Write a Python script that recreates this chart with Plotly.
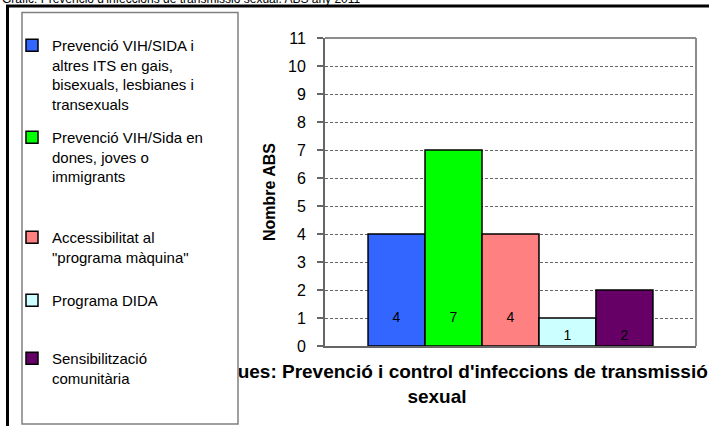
import plotly.graph_objects as go

# ---- data ----
series_names = [
    "Prevenció VIH/SIDA i<br>altres ITS en gais,<br>bisexuals, lesbianes i<br>transexuals",
    "Prevenció VIH/Sida en<br>dones, joves o<br>immigrants",
    "Accessibilitat al<br>\"programa màquina\"",
    "Programa DIDA",
    "Sensibilització<br>comunitària",
]
values = [4, 7, 4, 1, 2]
category = ["Prevenció i control d'infeccions de transmissió sexual"]
bar_colors = ["#3366FF", "#00FF00", "#FF8080", "#CCFFFF", "#660066"]
y_ticks = list(range(0, 12))

chart_title = "Gràfic: Prevenció d'infeccions de transmissió sexual. ABS any 2011"
x_title = "<b>Temàtiques: Prevenció i control d'infeccions de transmissió<br>sexual</b>"
y_title = "<b>Nombre ABS</b>"

# ---- layout helpers (pixel -> paper) ----
W, H = 709, 426
L, R, T, B = 325, 13, 38, 80
PW, PH = W - L - R, H - T - B


def px(x):
    return (x - L) / PW


def py(y):
    return (H - B - y) / PH


FONT = "Arial, 'Liberation Sans', sans-serif"

fig = go.Figure()
legend_ids = ["legend", "legend2", "legend3", "legend4", "legend5"]
for name, v, c, lid in zip(series_names, values, bar_colors, legend_ids):
    # tall bars: label lifted one line above the base; short bars: at the base
    tmpl = "%{y}<br> " if v >= 3 else "%{y}"
    fig.add_trace(go.Bar(
        x=category, y=[v], name=name,
        marker=dict(color=c, line=dict(color="black", width=1.5)),
        text=[str(v)], texttemplate=tmpl,
        textposition="inside", insidetextanchor="start",
        textangle=0, constraintext="none",
        textfont=dict(color="black", size=14, family=FONT),
        legend=lid, showlegend=True,
    ))

legend_tops = [29, 121, 221, 284, 342]
legend_layout = {}
for lid, top in zip(legend_ids, legend_tops):
    legend_layout[lid] = dict(
        x=px(12), y=py(top), xanchor="left", yanchor="top",
        bgcolor="rgba(0,0,0,0)", borderwidth=0, valign="top",
        font=dict(family=FONT, size=15, color="black"),
        visible=True,
    )

shapes = [
    # x-axis title carrier (drawn first so the legend box covers its left part)
    dict(type="rect", xref="paper", yref="paper", layer="above",
         x0=px(237), x1=px(637), y0=py(399), y1=py(365),
         line=dict(width=0), fillcolor="rgba(0,0,0,0)",
         label=dict(text=x_title, textposition="middle center",
                    font=dict(family=FONT, size=19, color="black"))),
    # legend box
    dict(type="rect", xref="paper", yref="paper", layer="above",
         x0=px(22), x1=px(238), y0=py(424), y1=py(12.5),
         line=dict(color="#808080", width=1.5), fillcolor="white"),
    # frame lines (black)
    dict(type="line", xref="paper", yref="paper", layer="above",
         x0=px(6), x1=px(712), y0=py(6), y1=py(6),
         line=dict(color="black", width=3)),
    dict(type="line", xref="paper", yref="paper", layer="above",
         x0=px(7.5), x1=px(7.5), y0=py(6), y1=py(430),
         line=dict(color="black", width=3)),
    # plot area border top & right
    dict(type="line", xref="paper", yref="paper", layer="above",
         x0=0, x1=1, y0=1, y1=1, line=dict(color="#8c8c8c", width=2)),
    dict(type="line", xref="paper", yref="paper", layer="above",
         x0=1, x1=1, y0=0, y1=1, line=dict(color="#8c8c8c", width=2)),
]

fig.update_layout(
    width=W, height=H,
    margin=dict(l=L, r=R, t=T, b=B, pad=0, autoexpand=False),
    paper_bgcolor="white", plot_bgcolor="white",
    showlegend=True,
    barmode="group", bargap=0.232, bargroupgap=0,
    font=dict(family=FONT, color="black"),
    shapes=shapes,
    annotations=[dict(
        text=chart_title, xref="paper", yref="paper",
        x=px(0), y=py(-1), xanchor="left", yanchor="middle",
        showarrow=False, font=dict(family=FONT, size=12, color="black"),
    )],
    **legend_layout,
)

fig.update_xaxes(
    type="category", showticklabels=False, ticks="",
    showline=True, linecolor="#666666", linewidth=2,
    showgrid=False, zeroline=False, fixedrange=True,
)
fig.update_yaxes(
    range=[0, 11], tickvals=y_ticks, ticks="outside", ticklen=6,
    tickcolor="#666666", tickwidth=1.5, ticklabelstandoff=8,
    tickfont=dict(family=FONT, size=16, color="black"),
    showline=True, linecolor="#666666", linewidth=2,
    showgrid=True, gridcolor="#666666", gridwidth=1, griddash="3px,2px",
    zeroline=False, fixedrange=True,
    title=dict(text=y_title, standoff=8,
               font=dict(family=FONT, size=16, color="black")),
)

fig.write_html(
    "out.html",
    config={"displayModeBar": False},
    post_script="document.body.style.margin='0';document.body.style.overflow='hidden';",
)
